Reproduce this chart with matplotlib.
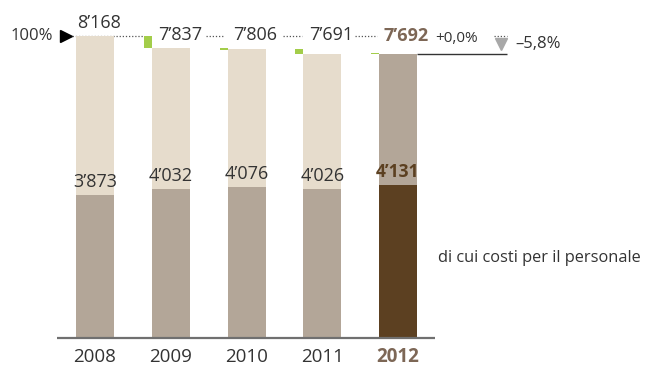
import matplotlib
matplotlib.use("Agg")
import matplotlib.pyplot as plt
from matplotlib.patches import Rectangle

# ---- data ----
years = ["2008", "2009", "2010", "2011", "2012"]
totals = [8168, 7837, 7806, 7691, 7692]
personnel = [3873, 4032, 4076, 4026, 4131]
total_labels = ["8’168", "7’837", "7’806", "7’691", "7’692"]
personnel_labels = ["3’873", "4’032", "4’076", "4’026", "4’131"]
change_last = "+0,0%"
change_total = "–5,8%"
ref_label = "100%"
legend_text = "di cui costi per il personale"

# ---- style ----
C_LIGHT = "#e6dccc"
C_MID = "#b3a698"
C_DARK = "#5c4021"
C_GREEN = "#a3cd4a"
C_TEXT = "#333333"
C_HL = "#7d6756"
FONT = "Open Sans"

W, H = 651, 366
fig = plt.figure(figsize=(W / 100, H / 100), dpi=100)
ax = fig.add_axes([0, 0, 1, 1])
ax.axis("off")

# layout: pixel mapping
x0_px, step_px = 95, 75.75
base_px, top_px = 338, 36
vpp = totals[0] / (base_px - top_px)  # value per pixel
ax.set_xlim(-x0_px / step_px, (W - x0_px) / step_px)
ax.set_ylim(-(H - base_px) * vpp, base_px * vpp)

def px(p):  # horizontal pixel distance -> data units
    return p / step_px

bw = px(38)
xs = list(range(len(years)))
n = len(years)

# bars
for i in xs:
    last = i == n - 1
    ax.bar(i, totals[i], width=bw, color=C_MID if last else C_LIGHT, zorder=2)
    ax.bar(i, personnel[i], width=bw, color=C_DARK if last else C_MID, zorder=3)

# green change marks
for i in xs[1:]:
    d = totals[i] - totals[i - 1]
    lo = min(totals[i], totals[i - 1])
    h = max(abs(d), 1.5 * vpp)
    ax.add_patch(Rectangle((i - bw / 2 - px(8), lo - (h - abs(d)) / 2), px(8), h,
                           color=C_GREEN, lw=0, zorder=3))

# dotted 100% reference line, in segments between the labels (pixel offsets from bar centres)
segments = [(0, -29, 1, -27), (1, 35, 2, -23), (2, 36, 3, -20), (3, 33, 4, -21), (4, 96, 4, 109)]
for a, da, b, db in segments:
    ax.hlines(totals[0], a + px(da), b + px(db), colors="#555555",
              linestyles=(0, (1, 1.5)), lw=0.9, zorder=1)
# 2012 level line
ax.hlines(totals[-1], n - 1 + bw / 2, n - 1 + px(109), colors="#333333", lw=1, zorder=4)
# baseline
ax.hlines(0, -px(38), n - 1 + px(37), colors="#707070", lw=1.6, zorder=5)

# 100% marker
ax.plot([-px(29)], [totals[0]], marker=">", color="black", ms=8, zorder=6)
ax.annotate(ref_label, (-px(29), totals[0]), xytext=(-9, 0), textcoords="offset points",
            ha="right", va="center", fontsize=12, color=C_TEXT, family=FONT)

# total labels
ax.annotate(total_labels[0], (0, totals[0]), xytext=(3, 3), textcoords="offset points",
            ha="center", va="bottom", fontsize=13, color=C_TEXT, family=FONT)
for i in xs[1:-1]:
    ax.annotate(total_labels[i], (i, totals[0]), xytext=(6.5, 0.8), textcoords="offset points",
                ha="center", va="center", fontsize=13, color=C_TEXT, family=FONT, zorder=7)
ax.annotate(total_labels[-1], (n - 1, totals[0]), xytext=(6, 0.3), textcoords="offset points",
            ha="center", va="center", fontsize=13, color=C_HL, family=FONT,
            fontweight="bold", zorder=7)
ax.annotate(change_last, (n - 1, totals[0]), xytext=(26.5, -1.5), textcoords="offset points",
            ha="left", va="center", fontsize=11, color=C_TEXT, family=FONT, zorder=7)

# grey down-triangle and total change
ax.plot([n - 1 + px(102.5)], [totals[0] - 7.5 * vpp], marker="v", color="#a8a8a8",
        ms=9, zorder=6)
ax.annotate(change_total, (n - 1 + px(117), totals[0]), xytext=(0, -6), textcoords="offset points",
            ha="left", va="center", fontsize=12, color=C_TEXT, family=FONT)

# personnel labels
for i in xs:
    last = i == n - 1
    ax.annotate(personnel_labels[i], (i, personnel[i]), xytext=(0, 9.5), textcoords="offset points",
                ha="center", va="center", fontsize=13 if not last else 12.5,
                color=C_DARK if last else C_TEXT, family=FONT,
                fontweight="bold" if last else "normal", zorder=7)

# year labels
for i in xs:
    last = i == n - 1
    ax.annotate(years[i], (i, 0), xytext=(0, -13.5), textcoords="offset points",
                ha="center", va="center", fontsize=13.5,
                color=C_HL if last else C_TEXT, family=FONT,
                fontweight="bold" if last else "normal")

# legend text
ax.text(n - 1 + px(40), 2164, legend_text, ha="left", va="center", fontsize=11.8,
        color=C_TEXT, family=FONT)

fig.savefig("out.png", dpi=100)
